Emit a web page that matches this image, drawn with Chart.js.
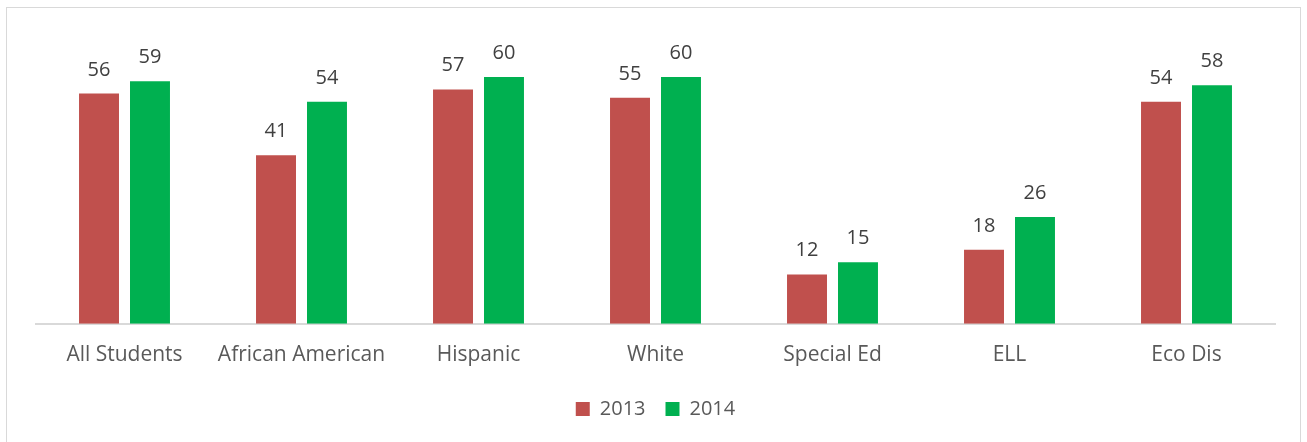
<!DOCTYPE html>
<html>
<head>
<meta charset="utf-8">
<script src="https://cdn.jsdelivr.net/npm/chart.js@4/dist/chart.umd.min.js"></script>
<style>
  html, body { margin: 0; padding: 0; background: #fff; }
  #wrap { position: relative; width: 1307px; height: 442px; overflow: hidden; }
  #frame { position: absolute; left: 6px; top: 7px; width: 1295px; height: 450px; border: 1px solid #d9d9d9; box-sizing: border-box; }
  #chart { position: absolute; left: 0; top: 0; }
</style>
</head>
<body>
<div id="wrap">
  <div id="frame"></div>
  <canvas id="chart" width="1307" height="442"></canvas>
</div>
<script>
var categories = ['All Students', 'African American', 'Hispanic', 'White', 'Special Ed', 'ELL', 'Eco Dis'];
var values2013 = [56, 41, 57, 55, 12, 18, 54];
var values2014 = [59, 54, 60, 60, 15, 26, 58];

// writes each bar's value just above it
var barValues = {
  id: 'barValues',
  afterDatasetsDraw: function (chart) {
    var ctx = chart.ctx;
    ctx.save();
    ctx.font = '20px "Open Sans"';
    ctx.fillStyle = '#404040';
    ctx.textAlign = 'center';
    ctx.textBaseline = 'alphabetic';
    chart.data.datasets.forEach(function (ds, i) {
      chart.getDatasetMeta(i).data.forEach(function (bar, j) {
        ctx.fillText(ds.data[j], bar.x, bar.y - 18);
      });
    });
    ctx.restore();
  }
};

new Chart(document.getElementById('chart'), {
  type: 'bar',
  data: {
    labels: categories,
    datasets: [
      { label: '2013', data: values2013, backgroundColor: '#c0504d' },
      { label: '2014', data: values2014, backgroundColor: '#00b050' }
    ]
  },
  options: {
    responsive: false,
    animation: false,
    categoryPercentage: 0.576,
    barPercentage: 0.784,
    layout: { padding: { left: 36, right: 32, top: 36, bottom: 13 } },
    scales: {
      y: { display: false, min: 0, max: 70 },
      x: {
        grid: { display: false },
        border: { display: true, color: '#d9d9d9', width: 2 },
        ticks: { color: '#595959', font: { family: '"Open Sans"', size: 21 }, padding: 11 }
      }
    },
    plugins: {
      tooltip: { enabled: false },
      legend: {
        position: 'bottom',
        labels: {
          color: '#595959',
          font: { family: '"Open Sans"', size: 20 },
          boxWidth: 14,
          boxHeight: 14,
          padding: 20
        }
      }
    }
  },
  plugins: [barValues]
});
</script>
</body>
</html>
